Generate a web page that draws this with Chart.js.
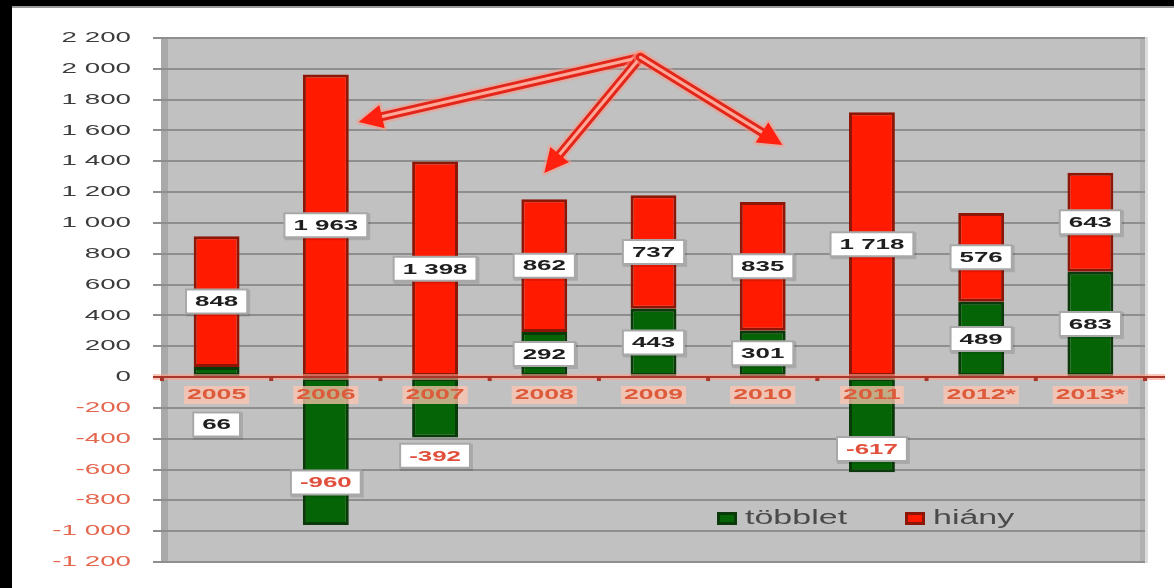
<!DOCTYPE html>
<html>
<head>
<meta charset="utf-8">
<script src="https://cdn.jsdelivr.net/npm/chart.js@4"></script>
<style>
  html, body { margin: 0; padding: 0; background: #ffffff; }
  canvas { display: block; }
</style>
</head>
<body>
<canvas id="chart" width="1174" height="588"></canvas>
<script>
// chart data
const years = ['2005', '2006', '2007', '2008', '2009', '2010', '2011', '2012*', '2013*'];
const tobblet = [66, -960, -392, 292, 443, 301, -617, 489, 683];
const hiany = [848, 1963, 1398, 862, 737, 835, 1718, 576, 643];
const yMin = -1200;
const yMax = 2200;
const yStep = 200;
const legendNames = ['többlet', 'hiány'];

// arrows in data space: [category index, value]
const arrowFrom = [3.88, 2075];
const arrowTo = [[1.3, 1655], [3.0, 1324], [5.18, 1506]];

// pixel nudges for the labels that sit off their bar
const greenLabelShift = [53, 31, 48, 0, 0, 0, 24, 0, 0];

const fmt = (v) => {
    let s = String(Math.abs(v)).replace(/\B(?=(\d{3})+(?!\d))/g, ' ');
    return (v < 0 ? '-' : '') + s;
};

const wideText = (ctx, text, x, y, align, sx) => {
    ctx.save();
    ctx.translate(x, y);
    ctx.scale(sx, 1);
    ctx.textAlign = align;
    ctx.textBaseline = 'middle';
    ctx.fillText(text, 0, 0);
    ctx.restore();
};

// fill with a path instead of fillRect
const box = (ctx, x, y, w, h, color) => {
    ctx.fillStyle = color;
    ctx.beginPath();
    ctx.rect(x, y, w, h);
    ctx.fill();
};

const backdrop = {
    id: 'backdrop',
    beforeDraw(chart) {
        const ctx = chart.ctx;
        const a = chart.chartArea;
        ctx.save();
        // white page, painted as bands around the plot
        box(ctx, 12, 8, 1162, a.top - 9, '#ffffff');
        box(ctx, 12, a.bottom + 1, 1162, 588 - a.bottom - 1, '#ffffff');
        box(ctx, 12, a.top - 2, a.left - 13, a.bottom - a.top + 4, '#ffffff');
        box(ctx, a.right + 3, a.top - 2, 1174 - a.right - 3, a.bottom - a.top + 4, '#ffffff');
        // black frame bits
        box(ctx, 0, 0, 1174, 6, '#000000');
        box(ctx, 0, 0, 12, 588, '#000000');
        box(ctx, 12, 6, 1162, 2, '#9a9a9a');
        // plot wall
        box(ctx, a.left - 1, a.top - 1, a.right - a.left + 3, a.bottom - a.top + 2, '#c1c1c1');
        box(ctx, a.left - 1, a.top - 1, 7, a.bottom - a.top + 2, '#a9a9a9');
        box(ctx, a.right - 5, a.top - 1, 5, a.bottom - a.top + 2, '#b0b0b0');
        box(ctx, a.right, a.top - 1, 3, a.bottom - a.top + 2, '#dcdcdc');
        ctx.restore();
    },
    afterDatasetsDraw(chart) {
        const ctx = chart.ctx;
        const a = chart.chartArea;
        const xs = chart.scales.x;
        const ys = chart.scales.y;
        const y0 = ys.getPixelForValue(0);
        const step = xs.getPixelForValue(1) - xs.getPixelForValue(0);

        // y tick labels
        ctx.save();
        ctx.font = '15px "Liberation Sans", Arial, sans-serif';
        ys.ticks.forEach(t => {
            let py = ys.getPixelForValue(t.value);
            ctx.fillStyle = t.value < 0 ? '#e4664e' : '#3c3c3c';
            wideText(ctx, fmt(t.value), 131, py, 'right', 1.85);
        });
        ctx.restore();

        // zero line with tick marks
        ctx.save();
        ctx.strokeStyle = 'rgba(255, 160, 140, 0.6)';
        ctx.lineWidth = 6;
        ctx.beginPath();
        ctx.moveTo(a.left - 9, y0);
        ctx.lineTo(a.right + 20, y0);
        ctx.stroke();
        ctx.strokeStyle = '#a8362a';
        ctx.lineWidth = 2;
        ctx.beginPath();
        ctx.moveTo(a.left - 9, y0);
        ctx.lineTo(a.right + 20, y0);
        ctx.stroke();
        for (let k = 0; k <= years.length; k++) {
            let px = xs.getPixelForValue(0) - step / 2 + k * step;
            box(ctx, px - 2, y0, 4, 4, '#a8362a');
        }
        ctx.restore();

        // arrows
        const toPx = (p) => [xs.getPixelForValue(0) + p[0] * step, ys.getPixelForValue(p[1])];
        const o = toPx(arrowFrom);
        ctx.save();
        ctx.lineCap = 'round';
        ctx.lineJoin = 'round';
        arrowTo.forEach(t => {
            const e = toPx(t);
            const ang = Math.atan2(e[1] - o[1], e[0] - o[0]);
            const hl = 24, hw = 12;
            const bx = e[0] - Math.cos(ang) * hl;
            const by = e[1] - Math.sin(ang) * hl;
            const head = () => {
                ctx.beginPath();
                ctx.moveTo(e[0], e[1]);
                ctx.lineTo(bx - Math.sin(ang) * hw, by + Math.cos(ang) * hw);
                ctx.lineTo(bx + Math.sin(ang) * hw, by - Math.cos(ang) * hw);
                ctx.closePath();
            };
            // soft halo
            ctx.strokeStyle = 'rgba(255, 150, 130, 0.45)';
            ctx.lineWidth = 14;
            ctx.beginPath();
            ctx.moveTo(o[0], o[1]);
            ctx.lineTo(bx, by);
            ctx.stroke();
            head();
            ctx.lineWidth = 5;
            ctx.stroke();
            // shaft
            ctx.strokeStyle = '#e3261a';
            ctx.lineWidth = 9;
            ctx.beginPath();
            ctx.moveTo(o[0], o[1]);
            ctx.lineTo(bx, by);
            ctx.stroke();
            ctx.strokeStyle = '#ffa898';
            ctx.lineWidth = 3;
            ctx.beginPath();
            ctx.moveTo(o[0], o[1]);
            ctx.lineTo(bx + Math.cos(ang) * 2, by + Math.sin(ang) * 2);
            ctx.stroke();
            ctx.fillStyle = '#ff2010';
            head();
            ctx.fill();
        });
        ctx.restore();

        // category labels
        ctx.save();
        ctx.font = 'bold 14px "Liberation Sans", Arial, sans-serif';
        years.forEach((yr, i) => {
            let px = xs.getPixelForValue(i);
            let w = ctx.measureText(yr).width * 1.9;
            box(ctx, px - w / 2 - 3, y0 + 9, w + 6, 18, 'rgba(255, 196, 176, 0.75)');
            ctx.fillStyle = '#dd5a3a';
            wideText(ctx, yr, px, y0 + 18, 'center', 1.9);
        });
        ctx.restore();

        // value labels
        ctx.save();
        ctx.font = 'bold 14px "Liberation Sans", Arial, sans-serif';
        chart.data.datasets.forEach((ds, di) => {
            const meta = chart.getDatasetMeta(di);
            meta.data.forEach((el, i) => {
                let v = ds.data[i];
                let cy = (el.y + el.base) / 2;
                if (di === 0) cy += greenLabelShift[i];
                let txt = fmt(v);
                let w = ctx.measureText(txt).width * 1.85 + 16;
                let h = 22;
                box(ctx, el.x - w / 2 - 1, cy - h / 2 - 1, w + 5, h + 5, 'rgba(0, 0, 0, 0.12)');
                box(ctx, el.x - w / 2 - 2, cy - h / 2 - 2, w + 4, h + 4, '#a8a8a8');
                box(ctx, el.x - w / 2, cy - h / 2, w, h, '#ffffff');
                ctx.fillStyle = v < 0 ? '#e0503c' : '#1e1e1e';
                wideText(ctx, txt, el.x, cy + 1, 'center', 1.85);
            });
        });
        ctx.restore();

        // legend
        ctx.save();
        ctx.font = '20px "Liberation Sans", Arial, sans-serif';
        const legX = [717, 905];
        const legY = 518;
        chart.data.datasets.forEach((ds, di) => {
            box(ctx, legX[di], legY - 6, 20, 13, ds.borderColor);
            box(ctx, legX[di] + 3, legY - 3, 14, 7, ds.backgroundColor);
            ctx.fillStyle = '#4a4a4a';
            wideText(ctx, legendNames[di], legX[di] + 28, legY, 'left', 1.7);
        });
        ctx.restore();
    }
};

const ctx = document.getElementById('chart');
const chart = new Chart(ctx, {
    type: 'bar',
    data: {
        labels: years,
        datasets: [{
            label: legendNames[0],
            data: tobblet,
            backgroundColor: '#056405',
            borderColor: '#0a3a0a',
            borderWidth: 3,
            borderSkipped: false
        }, {
            label: legendNames[1],
            data: hiany,
            backgroundColor: '#ff1a00',
            borderColor: '#8e1606',
            borderWidth: 3,
            borderSkipped: false
        }]
    },
    plugins: [backdrop],
    options: {
        responsive: false,
        animation: false,
        events: [],
        layout: { padding: { left: 12, top: 38, right: 29, bottom: 26 } },
        datasets: {
            bar: { categoryPercentage: 1, barPercentage: 0.42 }
        },
        plugins: {
            legend: { display: false },
            tooltip: { enabled: false }
        },
        scales: {
            x: {
                stacked: true,
                display: false
            },
            y: {
                stacked: true,
                min: yMin,
                max: yMax,
                ticks: { stepSize: yStep, display: false },
                border: { display: false },
                grid: { color: '#8e8e8e', lineWidth: 2, drawTicks: true, tickLength: 9 },
                afterFit(scale) { scale.width = 150; }
            }
        }
    }
});
</script>
</body>
</html>
